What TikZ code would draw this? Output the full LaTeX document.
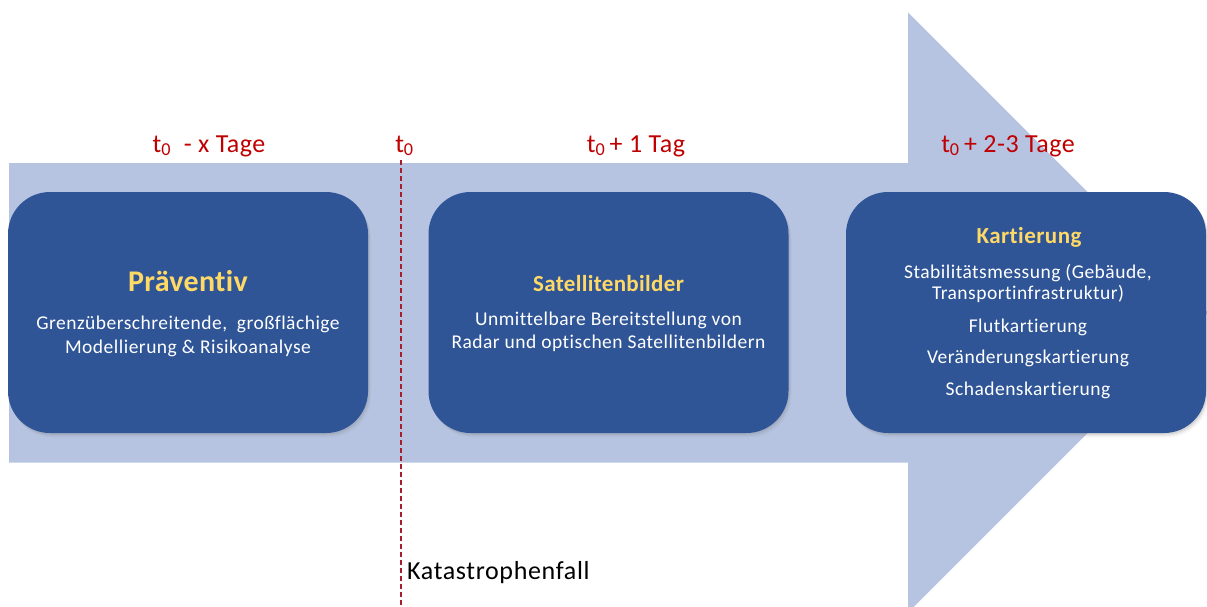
\documentclass[tikz,border=0pt]{standalone}
\usepackage{fontspec}
\setmainfont{Carlito}[Ligatures={TeX,NoCommon}]
\usetikzlibrary{shadows}
\definecolor{arrowfill}{HTML}{B6C4E2}
\definecolor{boxfill}{HTML}{2F5597}
\definecolor{titlecol}{HTML}{FFD966}
\definecolor{timecol}{HTML}{C00000}
\definecolor{linecol}{HTML}{A3202C}
\begin{document}
\begin{tikzpicture}[x=1pt,y=-1pt,
  phase/.style={rounded corners=42pt, fill=boxfill, draw=none, inner sep=0pt,
    minimum width=360pt, minimum height=241pt,
    drop shadow={shadow xshift=1pt,shadow yshift=-1.5pt,opacity=.18},
    drop shadow={shadow xshift=2pt,shadow yshift=-3pt,opacity=.12},
    drop shadow={shadow xshift=3pt,shadow yshift=-4.5pt,opacity=.07}},
  phasetitle/.style={anchor=base, text=titlecol, inner sep=0pt,
    font=\fontsize{23}{27}\selectfont\bfseries\addfontfeature{LetterSpace=1.5}},
  phasetext/.style={anchor=base, text=white, inner sep=0pt,
    font=\fontsize{19.5}{23}\selectfont\addfontfeature{LetterSpace=2.5}},
  timelabel/.style={anchor=base, text=timecol, inner sep=0pt,
    font=\fontsize{26}{30}\selectfont\addfontfeature{LetterSpace=2}},
  eventline/.style={draw=linecol, line width=1.3pt, dash pattern=on 5pt off 3pt}]
\useasboundingbox (0,0) rectangle (1207,606);
\clip (0,0) rectangle (1207,606);

% timeline arrow
\fill[arrowfill] (9,163) -- (908,163) -- (908,12.5) -- (1208,312.5)
  -- (908,612.5) -- (908,462.5) -- (9,462.5) -- cycle;

% time marks
\node[timelabel] (tpre) at (209,152) {t\textsubscript{0}\ \ - x Tage};
\node[timelabel] (tzero) at (404.5,152) {t\textsubscript{0}};
\node[timelabel] (tone) at (636,152) {t\textsubscript{0}\,+ 1 Tag};
\node[timelabel] (tthree) at (1008,152) {t\textsubscript{0}\,+ 2-3 Tage};

% moment of the disaster
\coordinate (evtop) at (401,160);
\coordinate (evbottom) at (401,606);
\draw[eventline] (evtop) -- (evbottom);
\node[anchor=base west, inner sep=0pt,
  font=\fontsize{26}{30}\selectfont\addfontfeature{LetterSpace=2.5}] (event) at (407,579) {Katastrophenfall};

% phases
\node[phase] (pre) at (188,312.5) {};
\node[phasetitle, font=\fontsize{30}{34}\selectfont\bfseries\addfontfeature{LetterSpace=1}] (pretitle) at (188,291.5) {Präventiv};
\node[phasetext] (pretext1) at (188,329.5) {Grenzüberschreitende,\ \ großflächige};
\node[phasetext] (pretext2) at (188,353) {Modellierung \& Risikoanalyse};

\node[phase] (sat) at (608.5,312.5) {};
\node[phasetitle] (sattitle) at (608.5,291.5) {Satellitenbilder};
\node[phasetext] (sattext1) at (608.5,325) {Unmittelbare Bereitstellung von};
\node[phasetext] (sattext2) at (608.5,348) {Radar und optischen Satellitenbildern};

\node[phase] (map) at (1026,312.5) {};
\node[phasetitle, font=\fontsize{23}{27}\selectfont\bfseries\addfontfeature{LetterSpace=2}] (maptitle) at (1029,243) {Kartierung};
\node[phasetext] (maptext1) at (1028,278) {Stabilitätsmessung (Gebäude,};
\node[phasetext] (maptext2) at (1028,299) {Transportinfrastruktur)};
\node[phasetext] (maptext3) at (1028,332) {Flutkartierung};
\node[phasetext] (maptext4) at (1028,363) {Veränderungskartierung};
\node[phasetext] (maptext5) at (1028,395) {Schadenskartierung};
\end{tikzpicture}
\end{document}
